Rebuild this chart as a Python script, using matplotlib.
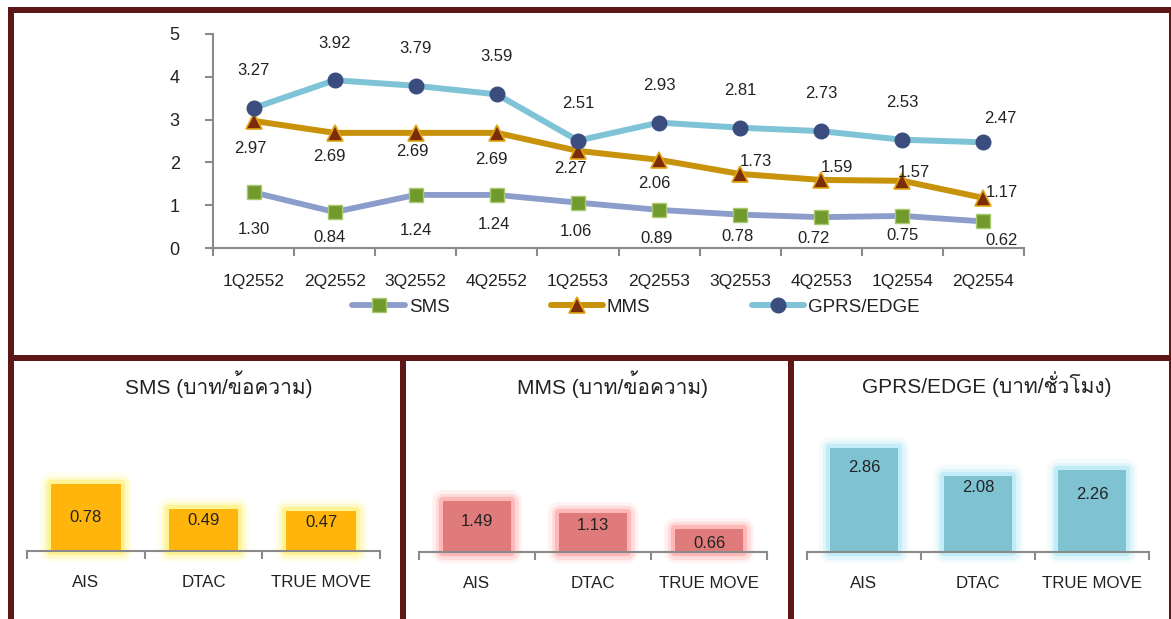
import matplotlib
matplotlib.use("Agg")
import matplotlib.pyplot as plt
import matplotlib.patheffects as pe
from matplotlib import font_manager
from matplotlib.ft2font import FT2Font
from matplotlib.patches import Rectangle

# -----------------------------------
# Data
# -----------------------------------
quarters = ["1Q2552", "2Q2552", "3Q2552", "4Q2552", "1Q2553",
            "2Q2553", "3Q2553", "4Q2553", "1Q2554", "2Q2554"]
sms = [1.30, 0.84, 1.24, 1.24, 1.06, 0.89, 0.78, 0.72, 0.75, 0.62]
mms = [2.97, 2.69, 2.69, 2.69, 2.27, 2.06, 1.73, 1.59, 1.57, 1.17]
gprs = [3.27, 3.92, 3.79, 3.59, 2.51, 2.93, 2.81, 2.73, 2.53, 2.47]

operators = ["AIS", "DTAC", "TRUE MOVE"]
sms_by_operator = [0.78, 0.49, 0.47]
mms_by_operator = [1.49, 1.13, 0.66]
gprs_by_operator = [2.86, 2.08, 2.26]

panel_titles = ["SMS (บาท/ข้อความ)", "MMS (บาท/ข้อความ)", "GPRS/EDGE (บาท/ชั่วโมง)"]

# label offsets in pixels (dx, dy up) -- hand placed like the original
sms_offsets = [(0, -37), (-5, -25), (0, -36), (-3, -30), (-2, -29),
               (-2, -29), (-3, -22), (-8, -21), (0, -20), (18, -19)]
mms_offsets = [(-3, -28), (-5, -24), (-3, -19), (-5, -27), (-8, -18),
               (-5, -24), (16, 12), (16, 12), (12, 8), (18, 5)]
gprs_offsets = [(0, 38), (0, 37), (0, 37), (0, 38), (0, 37),
                (0, 37), (0, 37), (0, 38), (0, 37), (17, 24)]

# -----------------------------------
# Fonts (need something that has Thai glyphs)
# -----------------------------------
def find_thai_font():
    for fe in font_manager.fontManager.ttflist:
        try:
            if 0x0E1A in FT2Font(fe.fname).get_charmap():
                return fe.name
        except Exception:
            pass
    return None

thai = find_thai_font()
families = ["Liberation Sans"] + ([thai] if thai else []) + ["DejaVu Sans"]
plt.rcParams["font.family"] = families

TEXT = "#222222"
AXIS = "#8a8a8a"
BORDER = "#5e1616"

W, H = 1171, 619

def px_box(x0, y0, x1, y1):
    return [x0 / W, 1 - y1 / H, (x1 - x0) / W, (y1 - y0) / H]

fig = plt.figure(figsize=(W / 100, H / 100), dpi=100)
fig.patch.set_facecolor("white")

# frame borders
for x0, y0, x1, y1 in [(8, 7, 1171, 13), (8, 355, 1171, 361), (8, 7, 14, 619),
                       (1169, 7, 1171, 619), (400, 355, 406, 619), (788, 355, 794, 619)]:
    fig.add_artist(Rectangle((x0 / W, 1 - y1 / H), (x1 - x0) / W, (y1 - y0) / H,
                             transform=fig.transFigure, color=BORDER, lw=0, zorder=10))

# -----------------------------------
# Top line chart
# -----------------------------------
ax = fig.add_axes(px_box(213, 34, 1024, 248))
x = list(range(len(quarters)))

l_sms, = ax.plot(x, sms, color="#8c9dcb", lw=4.2, marker="s", ms=10,
                 mfc="#719a2c", mec="#a9c970", mew=1, solid_capstyle="round")
l_mms, = ax.plot(x, mms, color="#c8920a", lw=4.3, marker="^", ms=11,
                 mfc="#7a2d08", mec="#e2a410", mew=1.2, solid_capstyle="round")
l_gprs, = ax.plot(x, gprs, color="#7fc3d6", lw=4.3, marker="o", ms=10.5,
                  mfc="#3a4d7e", mec="#3a4d7e", solid_capstyle="round")

for vals, offs in [(sms, sms_offsets), (mms, mms_offsets), (gprs, gprs_offsets)]:
    for i, v in enumerate(vals):
        dx, dy = offs[i]
        ax.annotate(f"{v:.2f}", (i, v), xytext=(dx, dy), textcoords="offset pixels",
                    ha="center", va="center", fontsize=12, color=TEXT)

ax.set_xlim(-0.5, len(quarters) - 0.5)
ax.set_ylim(0, 5)
ax.set_yticks([0, 1, 2, 3, 4, 5])
ax.set_xticks(x)
ax.set_xticklabels(quarters)
ax.set_xticks([i - 0.5 for i in range(len(quarters) + 1)], minor=True)
ax.tick_params(axis="x", which="major", length=0, pad=19, labelsize=12.5, labelcolor=TEXT)
ax.tick_params(axis="x", which="minor", length=6, width=1.5, color=AXIS, direction="out")
ax.tick_params(axis="y", length=6, width=1.5, color=AXIS, pad=18, labelsize=13, labelcolor=TEXT)
for s in ["top", "right"]:
    ax.spines[s].set_visible(False)
for s in ["left", "bottom"]:
    ax.spines[s].set_color(AXIS)
    ax.spines[s].set_linewidth(1.5)

leg = ax.legend([l_sms, l_mms, l_gprs], ["SMS", "MMS", "GPRS/EDGE"], ncol=3,
                loc="center", bbox_to_anchor=(636 / W, 1 - 307 / H),
                bbox_transform=fig.transFigure, frameon=False, fontsize=13.5,
                handlelength=2.8, handletextpad=0.2, columnspacing=5.4)
for t in leg.get_texts():
    t.set_color(TEXT)

# -----------------------------------
# Bottom bar panels
# -----------------------------------
panels = [
    (px_box(27, 400, 380, 551), sms_by_operator, 1.756, "#ffb50b", "#fff06a",
     [34, 12, 12], 0.544),
    (px_box(419, 400, 767, 552), mms_by_operator, 4.41, "#e07b7b", "#ff9c9c",
     [21, 12, 14], 0.555),
    (px_box(807, 400, 1149, 552), gprs_by_operator, 4.18, "#7fc3d3", "#a9e6f5",
     [19, 11, 25], 0.526),
]

for (box, vals, ymax, color, glow, lab_off, title_x), title in zip(panels, panel_titles):
    bax = fig.add_axes(box)
    pos = list(range(len(operators)))
    bars = bax.bar(pos, vals, width=0.59, color=color, zorder=2, clip_on=False)
    for b in bars:
        b.set_path_effects([
            pe.Stroke(linewidth=16, foreground=glow, alpha=0.12, joinstyle="round"),
            pe.Stroke(linewidth=11, foreground=glow, alpha=0.25, joinstyle="round"),
            pe.Stroke(linewidth=6, foreground=glow, alpha=0.55, joinstyle="round"),
            pe.Normal(),
        ])
    for i, v in enumerate(vals):
        bax.annotate(f"{v:.2f}", (i, v), xytext=(0, -lab_off[i]), textcoords="offset pixels",
                     ha="center", va="center", fontsize=12, color=TEXT, zorder=5)
    bax.set_xlim(-0.5, len(operators) - 0.5)
    bax.set_ylim(0, ymax)
    bax.set_xticks(pos)
    bax.set_xticklabels(operators)
    bax.set_xticks([i - 0.5 for i in range(len(operators) + 1)], minor=True)
    bax.tick_params(axis="x", which="major", length=0, pad=17, labelsize=12.2, labelcolor=TEXT)
    bax.tick_params(axis="x", which="minor", length=5.5, width=1.5, color=AXIS)
    bax.set_yticks([])
    for s in ["top", "right", "left"]:
        bax.spines[s].set_visible(False)
    bax.spines["bottom"].set_color(AXIS)
    bax.spines["bottom"].set_linewidth(1.5)
    bax.spines["bottom"].set_zorder(4)
    bax.patch.set_alpha(0)
    bax.text(title_x, 1.106, title, transform=bax.transAxes, ha="center", va="center",
             fontsize=15, color=TEXT)

fig.savefig("out.png", dpi=100)
